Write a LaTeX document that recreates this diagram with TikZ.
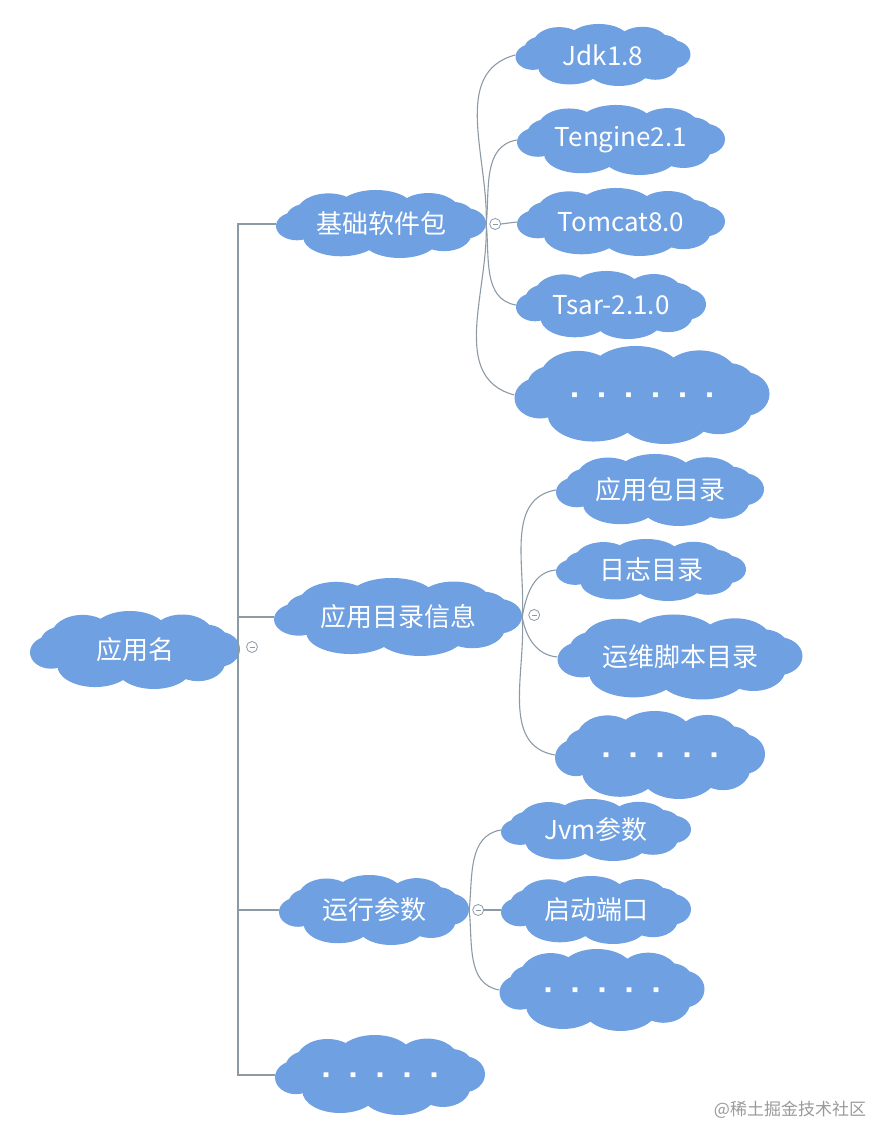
\documentclass[tikz,border=0pt]{standalone}
\usepackage{fontspec}
\newfontfamily\cjk{Noto Sans CJK SC}
\definecolor{cloudblue}{HTML}{6EA0E2}
\definecolor{linegray}{HTML}{8C9AA6}
\definecolor{wmgray}{HTML}{9A9A9A}
\newcommand\dd{\hspace{21pt}}
\newcommand\sq{{\fontsize{6}{7}\selectfont ■}}
% cloud: name, x, y, width, height, text
\newcommand\cloudnode[6]{%
  \fill[cloudblue] (#2,#3) ellipse [x radius={0.84*#4/2}, y radius={0.68*#5/2}];
  \foreach \pa/\pb/\pc/\pd in {-0.5/0.35/0.3/0.55, -0.05/0.45/0.36/0.55, 0.45/0.36/0.3/0.55,
      -0.38/-0.4/0.36/0.55, 0.18/-0.45/0.36/0.55, 0.6/-0.3/0.26/0.5,
      -0.8/-0.06/0.2/0.42, 0.8/0.02/0.2/0.45, -0.7/0.2/0.2/0.4, 0.68/0.25/0.2/0.4}{
    \fill[cloudblue] ({#2+(\pa)*#4/2},{#3+(\pb)*#5/2}) ellipse [x radius={\pc*#4/2}, y radius={\pd*#5/2}];}
  \node[cl, minimum width=#4pt, minimum height=#5pt] (#1) at (#2,#3) {#6};%
}
\begin{document}
\begin{tikzpicture}[x=1pt,y=1pt,
  cl/.style={rectangle, draw=none, text=white, inner sep=0pt,
    font=\cjk\fontsize{26}{30}\selectfont},
  conn/.style={draw=linegray, line width=1.1pt},
  mk/.style={circle, draw=linegray, fill=white, minimum size=11pt, inner sep=0pt, line width=0.8pt,
    path picture={\draw[linegray,line width=0.8pt]
      ([xshift=-2.5pt]path picture bounding box.center) -- ([xshift=2.5pt]path picture bounding box.center);}}
]
\useasboundingbox (0,0) rectangle (880,1126);

% root and first level
\cloudnode{root}{135}{476}{210}{78}{应用名}
\cloudnode{b1}{381}{902}{210}{68}{基础软件包}
\cloudnode{b2}{398}{509}{248}{78}{应用目录信息}
\cloudnode{b3}{374}{216}{190}{70}{运行参数}
\cloudnode{b4}{380}{51}{210}{80}{\sq\dd\sq\dd\sq\dd\sq\dd\sq}

% children of b1
\cloudnode{c11}{603}{1071}{175}{62}{Jdk1.8}
\cloudnode{c12}{621}{986}{208}{70}{Tengine2.1}
\cloudnode{c13}{621}{904}{208}{68}{Tomcat8.0}
\cloudnode{c14}{611}{821}{190}{68}{Tsar-2.1.0}
\cloudnode{c15}{642}{731}{255}{98}{\sq\dd\sq\dd\sq\dd\sq\dd\sq\dd\sq}

% children of b2
\cloudnode{c21}{660}{636}{208}{72}{应用包目录}
\cloudnode{c22}{651}{556}{190}{62}{日志目录}
\cloudnode{c23}{680}{469}{245}{85}{运维脚本目录}
\cloudnode{c24}{660}{371}{210}{88}{\sq\dd\sq\dd\sq\dd\sq\dd\sq}

% children of b3
\cloudnode{c31}{596}{296}{190}{62}{Jvm参数}
\cloudnode{c32}{596}{216}{190}{68}{启动端口}
\cloudnode{c33}{602}{136}{205}{82}{\sq\dd\sq\dd\sq\dd\sq\dd\sq}

% spine
\coordinate (sp) at (238,476);
\draw[conn] (root.east) -- (sp);
\draw[conn] (b1.west) -| (sp);
\draw[conn] (b2.west) -| (sp);
\draw[conn] (b3.west) -| (sp);
\draw[conn] (b4.west) -| (sp);
\node[mk] (m0) at (252,479) {};

% b1 fan
\coordinate (j1) at (b1.east);
\draw[conn] (j1) to[out=88,in=195] (c11.west);
\draw[conn] (j1) to[out=84,in=190] (c12.west);
\draw[conn] (j1) to[out=-84,in=170] (c14.west);
\draw[conn] (j1) to[out=-88,in=165] (c15.west);
\node[mk] (m1) at ([xshift=9pt]j1) {};
\draw[conn] (m1.east) -- (c13.west);

% b2 fan
\coordinate (j2) at (b2.east);
\draw[conn] (j2) to[out=86,in=190] (c21.west);
\draw[conn] (j2) to[out=80,in=185] (c22.west);
\draw[conn] (j2) to[out=-80,in=175] (c23.west);
\draw[conn] (j2) to[out=-86,in=170] (c24.west);
\node[mk] (m2) at ([xshift=12pt,yshift=2pt]j2) {};

% b3 fan
\coordinate (j3) at (b3.east);
\draw[conn] (j3) to[out=84,in=190] (c31.west);
\draw[conn] (j3) to[out=-84,in=170] (c33.west);
\node[mk] (m3) at ([xshift=9pt]j3) {};
\draw[conn] (m3.east) -- (c32.west);

% watermark
\node[text=wmgray, font=\cjk\fontsize{17}{19}\selectfont] (wm) at (790,16) {@稀土掘金技术社区};
\end{tikzpicture}
\end{document}
